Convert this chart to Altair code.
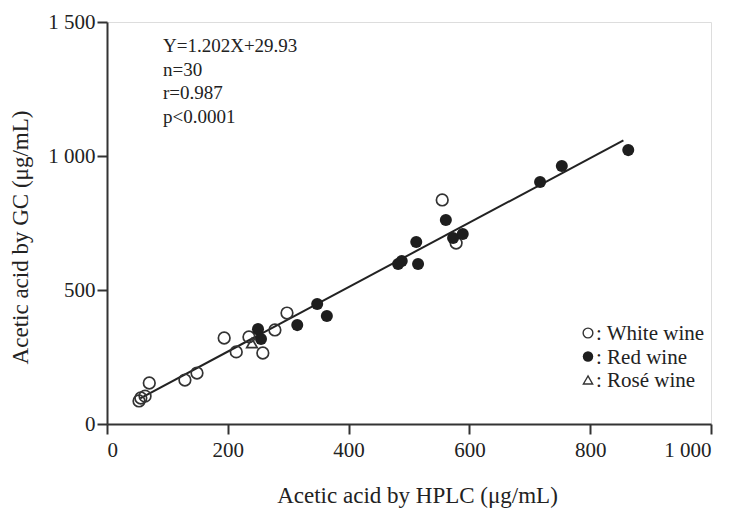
import altair as alt
import pandas as pd

# ---- data ----
white_x = [53, 56, 63, 70, 129, 149, 194, 214, 235, 258, 278, 298, 555, 578]
white_y = [86, 97, 104, 153, 164, 190, 321, 269, 325, 265, 351, 414, 836, 675]
red_x = [250, 255, 315, 348, 364, 482, 488, 512, 515, 561, 573, 589, 717, 753, 863]
red_y = [354, 317, 369, 448, 403, 597, 608, 679, 597, 761, 694, 709, 903, 963, 1022]
rose_x = [240]
rose_y = [302]
fit_x = [55, 855]
fit_y = [96, 1058]
x_ticks = [0, 200, 400, 600, 800, 1000]
y_ticks = [0, 500, 1000, 1500]
stats_lines = ["Y=1.202X+29.93", "n=30", "r=0.987", "p<0.0001"]
legend_labels = [": White wine", ": Red wine", ": Ros\u00e9 wine"]

FONT = "Liberation Serif"
INK = "#222222"

white = pd.DataFrame({"x": white_x, "y": white_y})
red = pd.DataFrame({"x": red_x, "y": red_y})
rose = pd.DataFrame({"x": rose_x, "y": rose_y})
fit = pd.DataFrame({"x": fit_x, "y": fit_y})

label_expr = ("datum.value >= 1000 ? format(floor(datum.value/1000),'d') + ' ' + "
              "format(datum.value % 1000,'03d') : format(datum.value,'d')")

xenc = alt.X("x:Q", scale=alt.Scale(domain=[0, 1000], nice=False),
             axis=alt.Axis(values=x_ticks, grid=False, tickSize=10, tickWidth=2,
                           domainWidth=2, domainColor="#333", tickColor="#333",
                           labelFont=FONT, labelFontSize=21, labelColor=INK,
                           labelPadding=5, labelExpr=label_expr,
                           title="Acetic acid by HPLC (\u03bcg/mL)", titleFont=FONT,
                           titleFontSize=23, titleFontWeight="normal", titleColor=INK,
                           titleX=310, titleY=78, titleBaseline="alphabetic",
                           titleAlign="center"))
yenc = alt.Y("y:Q", scale=alt.Scale(domain=[0, 1500], nice=False),
             axis=alt.Axis(values=y_ticks, grid=False, tickSize=10, tickWidth=2,
                           domainWidth=2, domainColor="#333", tickColor="#333",
                           labelFont=FONT, labelFontSize=21, labelColor=INK,
                           labelPadding=2, labelExpr=label_expr,
                           title="Acetic acid by GC (\u03bcg/mL)", titleFont=FONT,
                           titleFontSize=23, titleFontWeight="normal", titleColor=INK,
                           titleX=-80, titleY=215, titleAngle=270,
                           titleBaseline="alphabetic", titleAlign="center"))

line = alt.Chart(fit).mark_line(color=INK, strokeWidth=2).encode(x=xenc, y=yenc)
open_pts = alt.Chart(white).mark_point(shape="circle", filled=False, size=135,
                                       strokeWidth=1.7, color="#333", opacity=1).encode(x="x:Q", y="y:Q")
red_pts = alt.Chart(red).mark_circle(size=145, color="#1e1e1e", opacity=1).encode(x="x:Q", y="y:Q")
rose_pts = alt.Chart(rose).mark_point(shape="triangle-up", filled=False, size=110,
                                      strokeWidth=1.7, color="#333", opacity=1).encode(x="x:Q", y="y:Q")

stats = alt.Chart(pd.DataFrame({"t": [0]})).mark_text(
    text=stats_lines, align="left", baseline="top", font=FONT, fontSize=19,
    lineHeight=23.5, color=INK).encode(x=alt.value(56), y=alt.value(15))

layers = [line, open_pts, red_pts, rose_pts, stats]

sym_styles = [
    dict(shape="circle", filled=False, size=95, strokeWidth=1.4, color="#333", opacity=1),
    dict(shape="circle", filled=True, size=110, color="#1e1e1e", opacity=1),
    dict(shape="triangle-up", filled=False, size=85, strokeWidth=1.4, color="#333", opacity=1),
]
for i, lab in enumerate(legend_labels):
    yy = 311 + 23.5 * i
    layers.append(alt.Chart(pd.DataFrame({"t": [0]})).mark_point(**sym_styles[i]).encode(
        x=alt.value(481), y=alt.value(yy)))
    layers.append(alt.Chart(pd.DataFrame({"t": [lab]})).mark_text(
        align="left", baseline="middle", font=FONT, fontSize=21, color=INK).encode(
        text="t:N", x=alt.value(489), y=alt.value(yy + 1)))

chart = alt.layer(*layers).properties(
    width=604, height=402,
    autosize=alt.AutoSizeParams(type="none"),
    padding={"left": 99, "top": 14, "right": 17, "bottom": 93},
).configure_view(stroke=None).configure(background="white")

chart.save("out.html", embed_options={"renderer": "svg", "actions": False})
